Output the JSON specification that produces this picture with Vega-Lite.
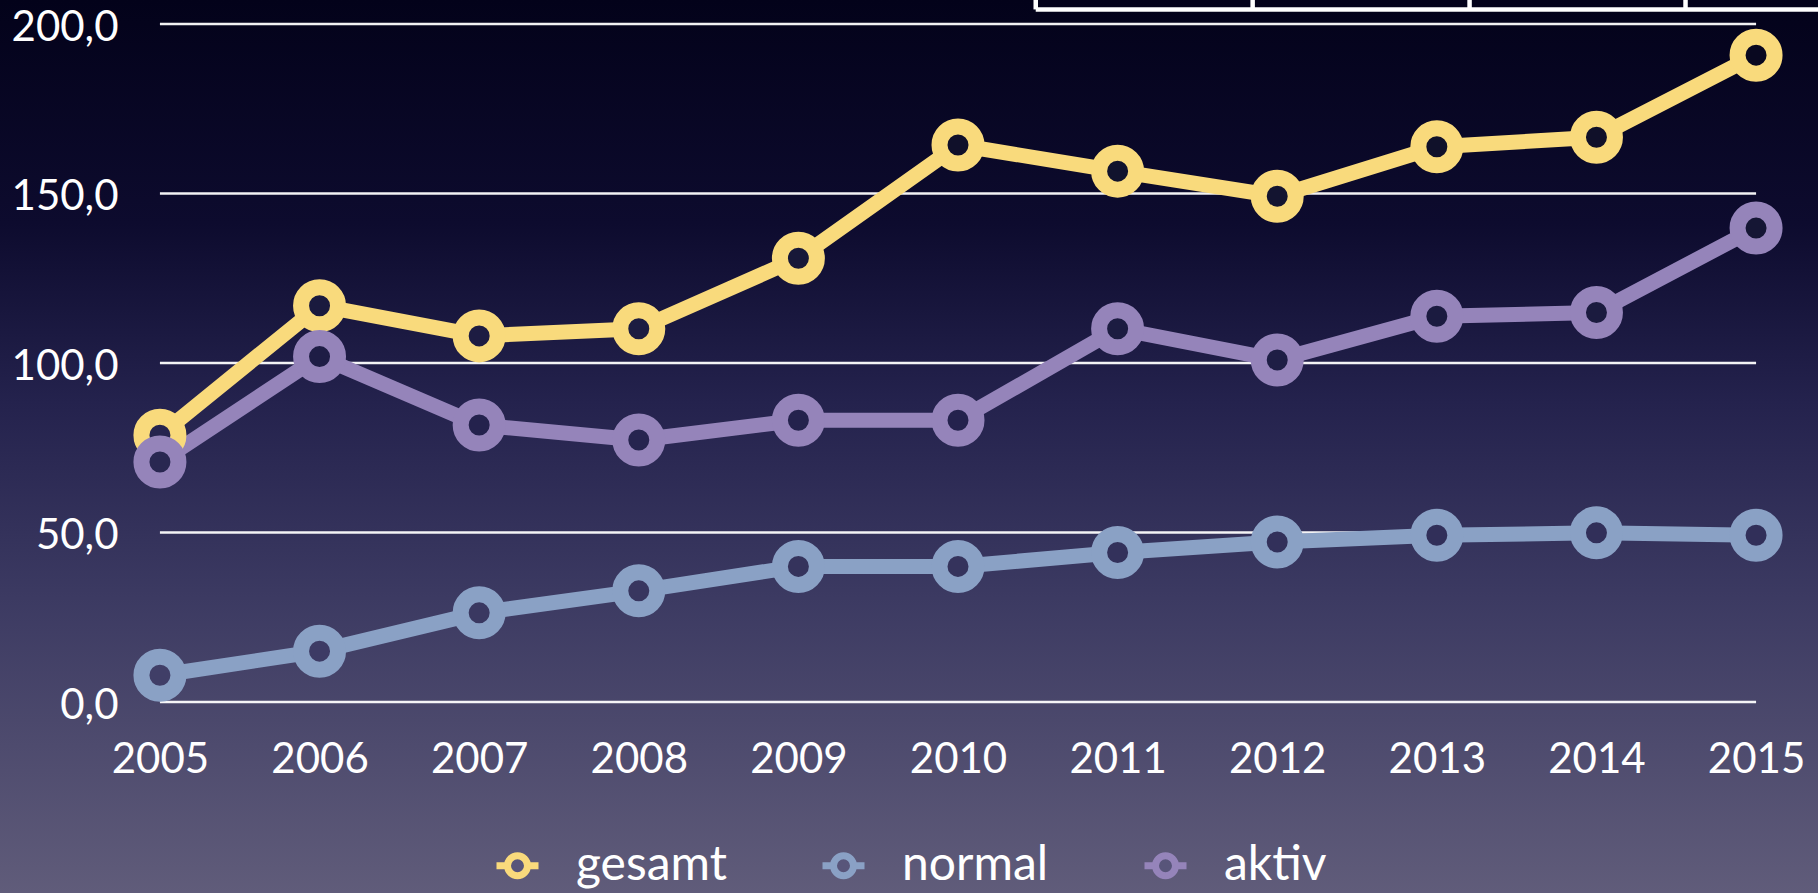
{
  "$schema": "https://vega.github.io/schema/vega-lite/v6.json",
  "width": 1818,
  "height": 893,
  "autosize": {"type": "none"},
  "padding": 0,
  "background": "#2a2850",
  "config": {
    "view": {"stroke": null, "fill": {"gradient": "linear", "x1": 0, "y1": 0, "x2": 0, "y2": 1, "stops": [
      {"offset": 0, "color": "#03021a"},
      {"offset": 0.25, "color": "#0d0b2e"},
      {"offset": 0.45, "color": "#24224d"},
      {"offset": 0.67, "color": "#3c3a62"},
      {"offset": 1, "color": "#605c7a"}
    ]}},
    "font": "Lato",
    "axis": {"labelColor": "white", "labelFontSize": 42, "labelFont": "Lato", "domain": false, "ticks": false, "title": null, "grid": false}
  },
  "datasets": {
    "grid": [{"g": 0}, {"g": 50}, {"g": 100}, {"g": 150}, {"g": 200}],
    "frame": [
      {"xa": 2010.487, "xb": 2015.5, "ya": 204.3, "yb": 204.3},
      {"xa": 2010.487, "xb": 2010.487, "ya": 204.3, "yb": 207.2},
      {"xa": 2011.846, "xb": 2011.846, "ya": 204.3, "yb": 207.2},
      {"xa": 2013.205, "xb": 2013.205, "ya": 204.3, "yb": 207.2},
      {"xa": 2014.558, "xb": 2014.558, "ya": 204.3, "yb": 207.2}
    ]
  },
  "data": {"values": [
    {"year": 2005, "series": "gesamt", "value": 78.7},
    {"year": 2006, "series": "gesamt", "value": 116.9},
    {"year": 2007, "series": "gesamt", "value": 108.0},
    {"year": 2008, "series": "gesamt", "value": 110.1},
    {"year": 2009, "series": "gesamt", "value": 130.9},
    {"year": 2010, "series": "gesamt", "value": 164.3},
    {"year": 2011, "series": "gesamt", "value": 156.6},
    {"year": 2012, "series": "gesamt", "value": 149.2},
    {"year": 2013, "series": "gesamt", "value": 163.8},
    {"year": 2014, "series": "gesamt", "value": 166.6},
    {"year": 2015, "series": "gesamt", "value": 190.8},
    {"year": 2005, "series": "normal", "value": 7.9},
    {"year": 2006, "series": "normal", "value": 15.0},
    {"year": 2007, "series": "normal", "value": 26.3},
    {"year": 2008, "series": "normal", "value": 32.8},
    {"year": 2009, "series": "normal", "value": 40.0},
    {"year": 2010, "series": "normal", "value": 40.0},
    {"year": 2011, "series": "normal", "value": 44.1},
    {"year": 2012, "series": "normal", "value": 47.2},
    {"year": 2013, "series": "normal", "value": 49.2},
    {"year": 2014, "series": "normal", "value": 49.9},
    {"year": 2015, "series": "normal", "value": 49.2},
    {"year": 2005, "series": "aktiv", "value": 70.8},
    {"year": 2006, "series": "aktiv", "value": 101.9},
    {"year": 2007, "series": "aktiv", "value": 81.7},
    {"year": 2008, "series": "aktiv", "value": 77.3},
    {"year": 2009, "series": "aktiv", "value": 83.1},
    {"year": 2010, "series": "aktiv", "value": 83.1},
    {"year": 2011, "series": "aktiv", "value": 110.1},
    {"year": 2012, "series": "aktiv", "value": 100.9},
    {"year": 2013, "series": "aktiv", "value": 113.8},
    {"year": 2014, "series": "aktiv", "value": 114.9},
    {"year": 2015, "series": "aktiv", "value": 139.8}
  ]},
  "layer": [
    {
      "data": {"name": "grid"},
      "mark": {"type": "rule", "color": "white", "strokeWidth": 2.5, "opacity": 0.95},
      "encoding": {
        "y": {"field": "g", "type": "quantitative",
          "scale": {"domain": [-56.34, 207.08], "nice": false, "zero": false},
          "axis": {"orient": "left", "offset": -118, "labelPadding": 0, "labelOffset": 3, "values": [0, 50, 100, 150, 200], "labelExpr": "replace(format(datum.value, '.1f'), '.', ',')"}},
        "x": {"datum": 2005, "type": "quantitative",
          "scale": {"domain": [2003.998, 2015.388], "nice": false, "zero": false},
          "axis": {"orient": "bottom", "offset": -191, "labelPadding": 37, "values": [2005,2006,2007,2008,2009,2010,2011,2012,2013,2014,2015], "format": "d", "labelFlush": false}},
        "x2": {"datum": 2015}
      }
    },
    {
      "data": {"name": "frame"},
      "mark": {"type": "rule", "color": "white", "strokeWidth": 4.5},
      "encoding": {
        "x": {"field": "xa", "type": "quantitative"},
        "x2": {"field": "xb"},
        "y": {"field": "ya", "type": "quantitative"},
        "y2": {"field": "yb"}
      }
    },
    {
      "mark": {"type": "line", "strokeWidth": 15, "strokeCap": "round", "strokeJoin": "round"},
      "encoding": {
        "x": {"field": "year", "type": "quantitative"},
        "y": {"field": "value", "type": "quantitative"},
        "stroke": {"field": "series", "type": "nominal",
          "scale": {"domain": ["gesamt", "normal", "aktiv"], "range": ["#f9da7c", "#8aa1c5", "#9584ba"]},
          "legend": {"orient": "none", "legendX": 493, "legendY": 841, "direction": "horizontal", "title": null,
            "symbolType": "M -1 0 L -0.476 0 M 0.476 0 L 1 0 M 0.476 0 A 0.476 0.476 0 1 1 -0.476 0 A 0.476 0.476 0 1 1 0.476 0 Z",
            "symbolSize": 1764, "symbolStrokeWidth": 7, "symbolOpacity": 1,
            "labelFontSize": 48, "labelColor": "white", "labelFont": "Lato", "labelOffset": 34, "columnPadding": 81,
            "encode": {"symbols": {"update": {"fill": {"value": "#58557a"}}}}}}
      }
    },
    {
      "mark": {"type": "point", "shape": "circle", "size": 1369, "strokeWidth": 16, "filled": false, "opacity": 1, "fillOpacity": 1},
      "encoding": {
        "x": {"field": "year", "type": "quantitative"},
        "y": {"field": "value", "type": "quantitative"},
        "stroke": {"field": "series", "type": "nominal"},
        "fill": {"field": "value", "type": "quantitative",
          "scale": {"domain": [0, 30, 88, 200], "range": ["#42406a", "#393760", "#22204b", "#05041c"]},
          "legend": null}
      }
    }
  ]
}
